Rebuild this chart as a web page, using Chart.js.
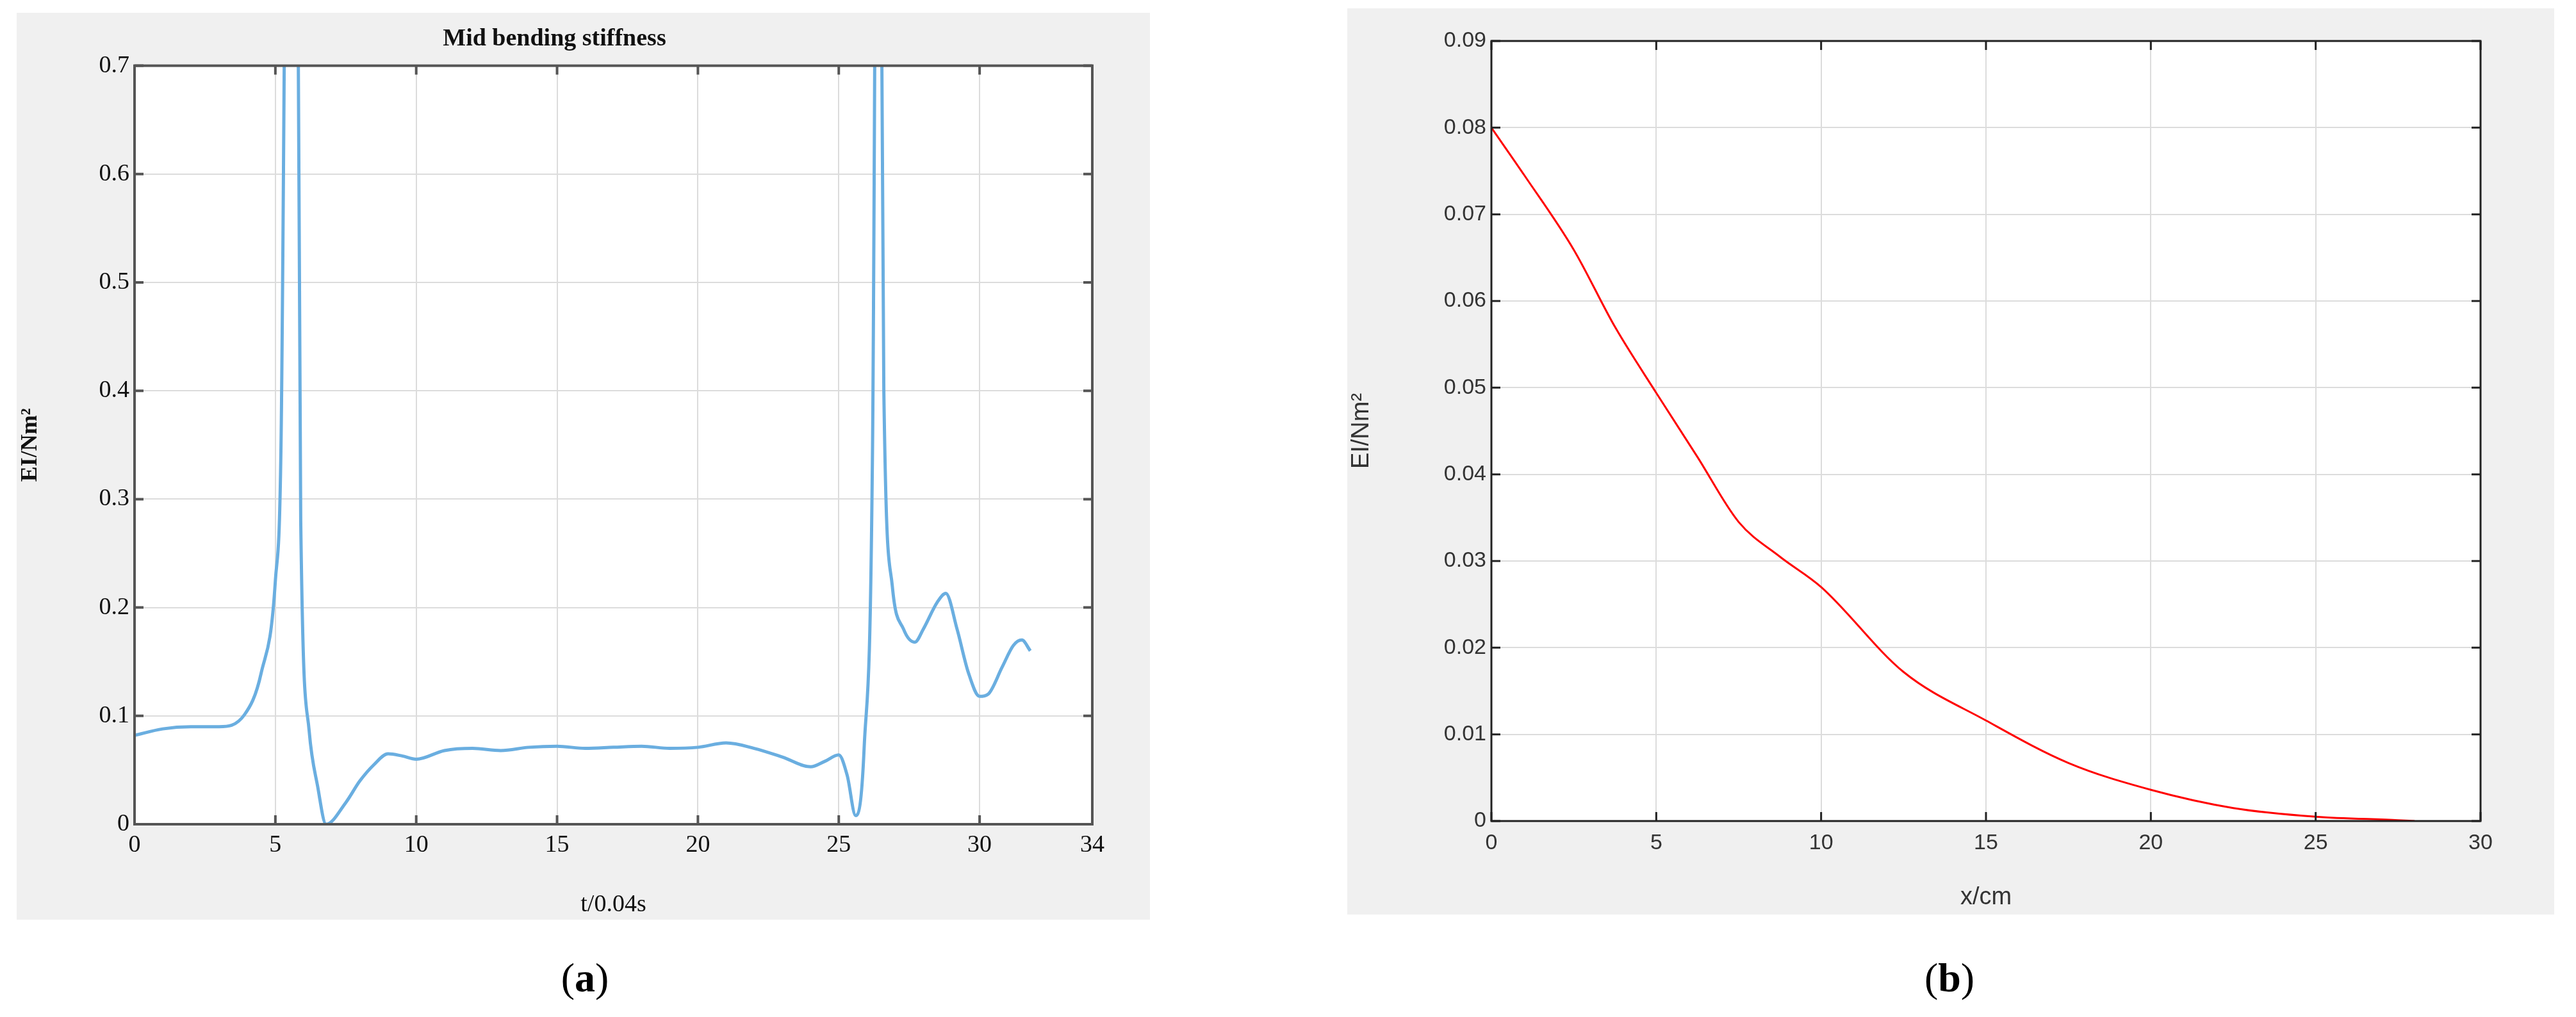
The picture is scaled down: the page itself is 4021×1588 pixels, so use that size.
<!DOCTYPE html>
<html><head><meta charset="utf-8">
<script src="https://cdn.jsdelivr.net/npm/chart.js@4"></script>
<style>
body{margin:0;background:#fff;width:4021px;height:1588px;position:relative;overflow:hidden}
.p{position:absolute;background:#f0f0f0}
.p canvas{display:block}
.cap{position:absolute;font-family:"Liberation Serif";font-size:64px;color:#000;transform:translateX(-50%)}
</style></head><body>
<div class="p" style="left:26px;top:20px;width:1769px;height:1416px"><canvas id="a" width="1769" height="1416" style="width:1769px;height:1416px"></canvas></div>
<div class="p" style="left:2103px;top:13px;width:1884px;height:1415px"><canvas id="b" width="1884" height="1415" style="width:1884px;height:1415px"></canvas></div>
<div class="cap" style="left:913px;top:1490px">(<b>a</b>)</div>
<div class="cap" style="left:3043px;top:1490px">(<b>b</b>)</div>
<script>
const tA=[0,1,2,3,3.9,4.5,5,5.2,5.5,5.7,5.9,6.2,6.5,6.8,7.5,8,8.5,9,9.5,10,11,12,13,14,15,16,17,18,19,20,21,22,23,24,24.5,25,25.3,25.6,25.9,26.2,26.4,26.6,26.9,27.3,27.7,28,28.5,28.8,29.2,29.6,30,30.3,30.8,31.2,31.5,31.8];
const eiA=[0.082,0.088,0.09,0.09,0.101,0.14,0.225,0.35,1.2,1.2,0.28,0.086,0.035,0.0,0.02,0.04,0.055,0.065,0.063,0.06,0.068,0.07,0.068,0.071,0.072,0.07,0.071,0.072,0.07,0.071,0.075,0.07,0.062,0.053,0.058,0.064,0.045,0.008,0.07,0.35,1.2,0.4,0.22,0.18,0.168,0.18,0.205,0.213,0.18,0.14,0.118,0.12,0.145,0.165,0.17,0.16];
const xB=[0,1,2.5,3.75,5,6.25,7.5,8.75,10,12.5,15,17.5,20,22.5,25,27.5,28];
const eiB=[0.08,0.0745,0.0659,0.057,0.0494,0.042,0.0345,0.0305,0.027,0.0172,0.0116,0.0067,0.0036,0.0015,0.0005,0.0001,0];
const ticksA=[0,0.1,0.2,0.3,0.4,0.5,0.6,0.7];
function boxPlugin(col,lw){return{id:'box',afterDraw(c){const a=c.chartArea,x=c.ctx;x.save();x.strokeStyle=col;x.lineWidth=lw;x.strokeRect(a.left,a.top,a.right-a.left,a.bottom-a.top);
const L=14;x.beginPath();c.scales.x.ticks.forEach(t=>{const p=c.scales.x.getPixelForValue(t.value);x.moveTo(p,a.bottom);x.lineTo(p,a.bottom-L);x.moveTo(p,a.top);x.lineTo(p,a.top+L);});
c.scales.y.ticks.forEach(t=>{const p=c.scales.y.getPixelForValue(t.value);x.moveTo(a.left,p);x.lineTo(a.left+L,p);x.moveTo(a.right,p);x.lineTo(a.right-L,p);});x.stroke();x.restore();}}}
const bgA={id:'bg',beforeDraw(c){const a=c.chartArea;c.ctx.fillStyle='#fff';c.ctx.fillRect(a.left,a.top,a.right-a.left,a.bottom-a.top);}};
const serif={family:'Liberation Serif',size:38};
new Chart(document.getElementById('a'),{type:'line',
data:{datasets:[{data:tA.map((t,i)=>({x:t,y:eiA[i]})),borderColor:'#6aaee0',borderWidth:5,pointRadius:0,cubicInterpolationMode:'monotone'}]},
options:{responsive:false,animation:false,devicePixelRatio:1,layout:{padding:{right:90,top:0}},
plugins:{legend:{display:false},tooltip:{enabled:false},title:{display:true,text:'Mid bending stiffness',font:{family:'Liberation Serif',size:38,weight:'bold'},color:'#111',padding:{top:18,bottom:19}}},
scales:{x:{type:'linear',min:0,max:34,ticks:{stepSize:5,font:serif,color:'#111',padding:10},grid:{color:'#dcdcdc',lineWidth:2,drawTicks:false},border:{display:false},
title:{display:true,text:'t/0.04s',font:serif,color:'#111',padding:0},afterFit(s){s.height=149;}},
y:{min:0,max:0.7,afterBuildTicks(s){s.ticks=ticksA.map(v=>({value:v}));},ticks:{font:serif,color:'#111',padding:8,callback:v=>v===0?'0':String(+v.toFixed(1))},grid:{color:'#dcdcdc',lineWidth:2,drawTicks:false},border:{display:false},
title:{display:true,text:'EI/Nm²',font:{family:'Liberation Serif',size:36,weight:'bold'},color:'#111',padding:0},afterFit(s){s.width=184;}}}},
plugins:[bgA,boxPlugin('#555',4)]});
const sans={family:'Liberation Sans',size:34};
new Chart(document.getElementById('b'),{type:'line',
data:{datasets:[{data:xB.map((t,i)=>({x:t,y:eiB[i]})),borderColor:'#ff0000',borderWidth:3,pointRadius:0,cubicInterpolationMode:'monotone'}]},
options:{responsive:false,animation:false,devicePixelRatio:1,layout:{padding:{right:115,top:51}},
plugins:{legend:{display:false},tooltip:{enabled:false}},
scales:{x:{type:'linear',min:0,max:30,ticks:{stepSize:5,font:sans,color:'#333',padding:14},grid:{color:'#dcdcdc',lineWidth:2,drawTicks:false},border:{display:false},
title:{display:true,text:'x/cm',font:{family:'Liberation Sans',size:38},color:'#333',padding:4},afterFit(s){s.height=146;}},
y:{min:0,max:0.09,ticks:{stepSize:0.01,font:sans,color:'#333',padding:8,callback:v=>v===0?'0':v.toFixed(2)},grid:{color:'#dcdcdc',lineWidth:2,drawTicks:false},border:{display:false},
title:{display:true,text:'EI/Nm²',font:{family:'Liberation Sans',size:38},color:'#333',padding:0},afterFit(s){s.width=225;}}}},
plugins:[bgA,boxPlugin('#222',3)]});
</script>
</body></html>
